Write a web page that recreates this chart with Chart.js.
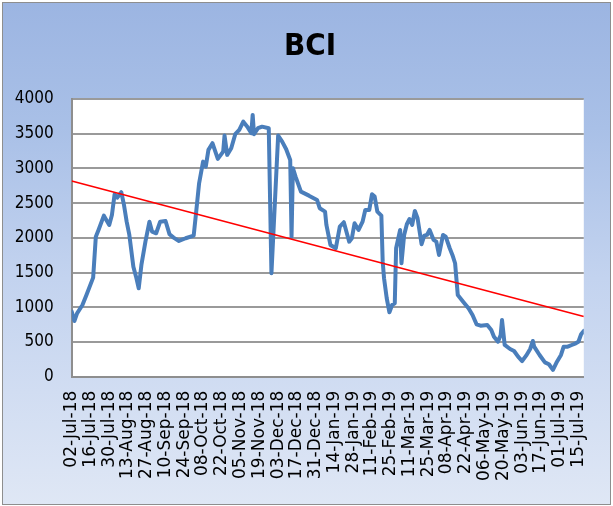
<!DOCTYPE html>
<html>
<head>
<meta charset="utf-8">
<script src="https://cdn.jsdelivr.net/npm/chart.js@4/dist/chart.umd.min.js"></script>
<style>
html,body{margin:0;padding:0;background:#ffffff;width:613px;height:506px;overflow:hidden;}
#frame{position:absolute;left:2px;top:2px;width:607px;height:501px;border:1px solid #8e8e8e;
  background:linear-gradient(180deg,#9cb5e2 0%,#a9c0e7 25%,#c3d3ef 55%,#dfe7f5 100%);}
#wrap{position:absolute;left:0;top:0;width:613px;height:506px;}
</style>
</head>
<body>
<div id="frame"></div>
<div id="wrap"><canvas id="c" width="613" height="506"></canvas></div>
<script>
// ---- data ----
const chartTitle = 'BCI';
// days since 02-Jul-18
const days = [0,2,4,8,11,16,18,20,24,28,30,32,34,37,39,41,43,46,48,50,52,55,58,60,63,66,70,73,76,80,85,91,93,95,98,100,102,105,109,113,114,116,119,122,125,128,131,134,135,136,139,142,147,149,154,157,160,163,164,165,167,171,177,183,185,189,190,193,197,200,203,207,209,211,214,217,219,222,224,226,228,231,232,233,235,237,239,241,242,245,246,248,250,252,254,256,258,261,263,265,267,270,272,274,277,279,282,284,286,288,292,296,299,302,305,310,313,315,318,320,321,323,327,330,333,336,339,342,344,345,349,353,356,359,362,365,367,370,373,376,378,380,382];
const bci = [937,802,913,1033,1177,1427,2017,2114,2320,2186,2330,2628,2580,2657,2474,2233,2042,1585,1441,1274,1610,1945,2233,2089,2066,2233,2243,2051,2003,1955,1994,2032,2402,2780,3098,3026,3267,3363,3137,3242,3473,3195,3291,3493,3555,3674,3602,3507,3771,3493,3579,3602,3579,1490,3473,3386,3277,3122,2017,3003,2882,2666,2608,2546,2427,2378,2186,1898,1850,2161,2225,1945,1994,2210,2114,2233,2402,2402,2628,2594,2378,2320,1657,1418,1130,928,1033,1058,1850,2114,1634,2042,2196,2272,2186,2388,2282,1908,2032,2042,2114,1970,1945,1754,2042,2017,1850,1754,1634,1177,1081,985,889,755,735,745,673,576,504,601,817,457,399,370,288,226,303,399,514,432,313,207,179,97,216,313,432,432,457,481,504,611,659];
const trendDays = [0, 382];
const trendValues = [2820, 868];
const xTickLabels = ['02-Jul-18','16-Jul-18','30-Jul-18','13-Aug-18','27-Aug-18','10-Sep-18','24-Sep-18','08-Oct-18','22-Oct-18','05-Nov-18','19-Nov-18','03-Dec-18','17-Dec-18','31-Dec-18','14-Jan-19','28-Jan-19','11-Feb-19','25-Feb-19','11-Mar-19','25-Mar-19','08-Apr-19','22-Apr-19','06-May-19','20-May-19','03-Jun-19','17-Jun-19','01-Jul-19','15-Jul-19'];
const xTickStep = 14;
const xMax = 382;
const yTicks = [0,500,1000,1500,2000,2500,3000,3500,4000];

const narrow = "'Liberation Sans Narrow','DejaVu Sans Condensed','Liberation Sans',sans-serif";

const plotBg = {
  id: 'plotBg',
  beforeDraw(chart) {
    const {ctx, chartArea: a} = chart;
    ctx.save();
    ctx.fillStyle = '#ffffff';
    ctx.fillRect(a.left, a.top, a.right - a.left, a.bottom - a.top);
    ctx.restore();
  },
  afterDraw(chart) {
    const ctx = chart.ctx;
    ctx.save();
    ctx.font = 'bold 31px ' + narrow;
    ctx.fillStyle = '#000000';
    ctx.textAlign = 'center';
    ctx.textBaseline = 'middle';
    ctx.fillText(chartTitle, 310, 47);
    ctx.restore();
  }
};

new Chart(document.getElementById('c'), {
  type: 'line',
  data: {
    datasets: [
      {
        label: 'Trend',
        data: trendDays.map((d, i) => ({x: d, y: trendValues[i]})),
        borderColor: '#ff0000',
        borderWidth: 1.6,
        pointRadius: 0,
        order: 0
      },
      {
        label: 'BCI',
        data: days.map((d, i) => ({x: d, y: bci[i]})),
        borderColor: '#4a7ebb',
        borderWidth: 4,
        pointRadius: 0,
        tension: 0,
        borderJoinStyle: 'round',
        borderCapStyle: 'round',
        order: 1
      }
    ]
  },
  options: {
    responsive: false,
    animation: false,
    layout: {padding: {left: 0, right: 16.7, top: 99, bottom: 0}},
    plugins: {legend: {display: false}, title: {display: false}, tooltip: {enabled: false}},
    scales: {
      x: {
        type: 'linear',
        min: 0,
        max: xMax,
        afterBuildTicks: s => { s.ticks = xTickLabels.map((_, i) => ({value: i * xTickStep})); },
        afterFit: s => { s.height = 129.3; },
        ticks: {
          autoSkip: false,
          maxRotation: 90,
          minRotation: 90,
          padding: 14,
          color: '#000000',
          font: {family: "'DejaVu Sans',sans-serif", size: 17},
          callback: v => xTickLabels[Math.round(v / xTickStep)]
        },
        grid: {display: false, drawTicks: false},
        border: {display: true, color: '#8e8e8e', width: 2}
      },
      y: {
        min: 0,
        max: 4000,
        afterBuildTicks: s => { s.ticks = yTicks.map(v => ({value: v})); },
        afterFit: s => { s.width = 71.7; },
        ticks: {
          padding: 18,
          color: '#000000',
          font: {family: narrow, size: 17},
          callback: v => String(v)
        },
        grid: {color: '#9a9a9a', lineWidth: 2, drawTicks: false},
        border: {display: true, color: '#8e8e8e', width: 2}
      }
    }
  },
  plugins: [plotBg]
});
</script>
</body>
</html>
